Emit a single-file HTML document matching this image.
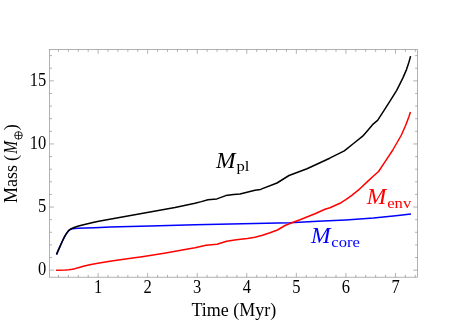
<!DOCTYPE html>
<html><head><meta charset="utf-8"><title>Mass vs Time</title>
<style>
html,body{margin:0;padding:0;background:#fff;}
body{width:467px;height:327px;overflow:hidden;font-family:"Liberation Serif",serif;}
svg{display:block;will-change:transform;}
text{font-family:"Liberation Serif",serif;}
.it{font-style:italic;}
</style></head><body>
<svg width="467" height="327" viewBox="0 0 467 327">
<rect width="467" height="327" fill="#fff"/>
<rect x="49.6" y="49.5" width="367.9" height="227.7" fill="none" stroke="#909090" stroke-width="0.7"/>
<path d="M58.46,277.2v-2.4M58.46,49.5v2.4M68.37,277.2v-2.4M68.37,49.5v2.4M78.29,277.2v-2.4M78.29,49.5v2.4M88.20,277.2v-2.4M88.20,49.5v2.4M98.11,277.2v-4.3M98.11,49.5v4.3M108.02,277.2v-2.4M108.02,49.5v2.4M117.93,277.2v-2.4M117.93,49.5v2.4M127.85,277.2v-2.4M127.85,49.5v2.4M137.76,277.2v-2.4M137.76,49.5v2.4M147.67,277.2v-4.3M147.67,49.5v4.3M157.58,277.2v-2.4M157.58,49.5v2.4M167.49,277.2v-2.4M167.49,49.5v2.4M177.41,277.2v-2.4M177.41,49.5v2.4M187.32,277.2v-2.4M187.32,49.5v2.4M197.23,277.2v-4.3M197.23,49.5v4.3M207.14,277.2v-2.4M207.14,49.5v2.4M217.05,277.2v-2.4M217.05,49.5v2.4M226.97,277.2v-2.4M226.97,49.5v2.4M236.88,277.2v-2.4M236.88,49.5v2.4M246.79,277.2v-4.3M246.79,49.5v4.3M256.70,277.2v-2.4M256.70,49.5v2.4M266.61,277.2v-2.4M266.61,49.5v2.4M276.53,277.2v-2.4M276.53,49.5v2.4M286.44,277.2v-2.4M286.44,49.5v2.4M296.35,277.2v-4.3M296.35,49.5v4.3M306.26,277.2v-2.4M306.26,49.5v2.4M316.17,277.2v-2.4M316.17,49.5v2.4M326.09,277.2v-2.4M326.09,49.5v2.4M336.00,277.2v-2.4M336.00,49.5v2.4M345.91,277.2v-4.3M345.91,49.5v4.3M355.82,277.2v-2.4M355.82,49.5v2.4M365.73,277.2v-2.4M365.73,49.5v2.4M375.65,277.2v-2.4M375.65,49.5v2.4M385.56,277.2v-2.4M385.56,49.5v2.4M395.47,277.2v-4.3M395.47,49.5v4.3M405.38,277.2v-2.4M405.38,49.5v2.4M415.29,277.2v-2.4M415.29,49.5v2.4M49.6,270.15h4.3M417.5,270.15h-4.3M49.6,257.53h2.4M417.5,257.53h-2.4M49.6,244.91h2.4M417.5,244.91h-2.4M49.6,232.29h2.4M417.5,232.29h-2.4M49.6,219.67h2.4M417.5,219.67h-2.4M49.6,207.05h4.3M417.5,207.05h-4.3M49.6,194.43h2.4M417.5,194.43h-2.4M49.6,181.81h2.4M417.5,181.81h-2.4M49.6,169.19h2.4M417.5,169.19h-2.4M49.6,156.57h2.4M417.5,156.57h-2.4M49.6,143.95h4.3M417.5,143.95h-4.3M49.6,131.33h2.4M417.5,131.33h-2.4M49.6,118.71h2.4M417.5,118.71h-2.4M49.6,106.09h2.4M417.5,106.09h-2.4M49.6,93.47h2.4M417.5,93.47h-2.4M49.6,80.85h4.3M417.5,80.85h-4.3M49.6,68.23h2.4M417.5,68.23h-2.4M49.6,55.61h2.4M417.5,55.61h-2.4" fill="none" stroke="#909090" stroke-width="0.7"/>
<g fill="none" stroke-width="1.5" stroke-linejoin="round" stroke-linecap="butt">
<path d="M56.5,254.6 L58.2,250.6 L59.9,246.8 L61.5,243.2 L63.2,239.5 L64.8,236.4 L66.5,233.6 L67.8,231.8 L69.1,230.4 L70.6,229.4 L72.4,228.8 L74.8,228.4 L77.7,228.2 L94.0,227.7 L100.0,227.4 L110.0,227.1 L150.0,225.9 L195.0,224.7 L290.0,222.7 L317.8,221.3 L345.7,219.9 L373.5,218.0 L395.8,215.7 L411.0,214.0" stroke="#0000ff"/>
<path d="M56.1,270.2 L65.4,270.0 L68.8,269.8 L72.3,269.3 L74.8,268.7 L77.4,267.9 L84.2,266.1 L91.1,264.4 L97.9,263.2 L111.4,261.0 L122.1,259.5 L132.8,258.1 L142.1,256.7 L165.7,252.9 L189.2,248.7 L195.0,247.8 L206.0,245.3 L217.0,244.2 L226.6,241.2 L236.3,239.8 L247.3,238.4 L255.0,237.2 L262.5,235.2 L270.0,232.7 L277.5,230.0 L285.0,225.5 L292.5,222.5 L300.0,219.8 L307.5,216.8 L315.0,213.8 L325.0,209.3 L329.9,207.7 L339.9,203.3 L345.8,199.7 L351.8,195.3 L359.8,188.8 L367.7,181.4 L373.7,175.8 L378.6,171.5 L383.6,163.9 L388.6,156.4 L392.8,150.0 L397.1,142.5 L401.4,135.0 L405.7,125.3 L408.9,116.8 L410.4,112.1" stroke="#ff0000"/>
<path d="M56.5,254.4 L58.2,250.4 L59.9,246.6 L61.5,243.0 L63.2,239.3 L64.8,236.2 L66.5,233.4 L67.8,231.6 L69.1,230.1 L70.6,229.0 L72.4,228.2 L74.8,227.2 L77.7,226.2 L81.5,225.2 L85.6,224.2 L94.0,222.2 L100.0,221.1 L125.0,216.6 L150.0,212.1 L175.0,207.5 L195.0,203.3 L201.4,201.6 L207.9,199.7 L216.9,198.9 L225.8,195.6 L233.6,194.6 L240.0,193.9 L249.0,191.7 L255.0,190.3 L260.5,189.4 L277.0,183.0 L289.0,175.5 L307.0,168.7 L320.0,162.7 L329.7,158.2 L344.3,150.8 L353.5,143.5 L362.7,136.2 L368.1,130.0 L373.4,123.8 L377.6,120.4 L384.4,109.9 L390.6,100.1 L396.7,90.3 L402.8,78.1 L406.5,69.6 L408.9,62.2 L410.6,56.1" stroke="#000"/>
</g>
<g font-size="16.5" text-anchor="middle">
<text transform="translate(98.1,292.6) scale(1,1.1)">1</text>
<text transform="translate(147.7,292.6) scale(1,1.1)">2</text>
<text transform="translate(197.2,292.6) scale(1,1.1)">3</text>
<text transform="translate(246.8,292.6) scale(1,1.1)">4</text>
<text transform="translate(296.4,292.6) scale(1,1.1)">5</text>
<text transform="translate(345.9,292.6) scale(1,1.1)">6</text>
<text transform="translate(395.5,292.6) scale(1,1.1)">7</text>
</g>
<g font-size="16.5" text-anchor="end">
<text transform="translate(46.2,274.9) scale(1,1.1)">0</text>
<text transform="translate(46.2,211.8) scale(1,1.1)">5</text>
<text transform="translate(46.2,148.8) scale(1,1.1)">10</text>
<text transform="translate(46.2,85.6) scale(1,1.1)">15</text>
</g>
<text x="233.8" y="316.3" font-size="18" text-anchor="middle">Time (Myr)</text>
<g transform="translate(16.6,203) rotate(-90)" font-size="18">
<text x="0" y="0">Mass</text>
<text x="42.1" y="0">(</text>
<text transform="translate(49.2,0) scale(0.86,1)" class="it">M</text>
<g transform="translate(67.6,1.9)" fill="none" stroke="#000" stroke-width="0.8"><circle cx="0" cy="0" r="3.8"/><path d="M-3.8,0h7.6M0,-3.8v7.6"/></g>
<text x="72.8" y="0">)</text>
</g>
<text transform="translate(216,167.8) scale(1.02,1)" font-size="23" class="it">M</text><text transform="translate(236.5,171.2) scale(1.04,0.9)" font-size="16">pl</text>
<g fill="#ff0000"><text transform="translate(366.8,204.2) scale(1.02,1)" font-size="23" class="it" fill="#ff0000">M</text><text transform="translate(387.2,207.6) scale(1.04,0.9)" font-size="16" fill="#ff0000">env</text></g>
<g><text transform="translate(311,243.3) scale(1.02,1)" font-size="23" class="it" fill="#0000ff">M</text><text transform="translate(331.3,246.8) scale(1.04,0.9)" font-size="16" fill="#0000ff">core</text></g>
</svg>
</body></html>
